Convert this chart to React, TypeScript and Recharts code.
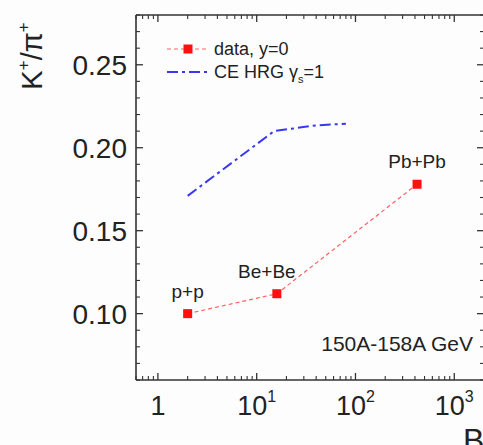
import React from 'react';
import { LineChart, Line, XAxis, YAxis, Legend, LabelList } from 'recharts';

// ---- data ----
const systems = ['p+p', 'Be+Be', 'Pb+Pb'];
const dataNpart = [2, 16, 420];
const dataRatio = [0.1, 0.112, 0.178];
const modelNpart = [2, 15, 40, 80];
const modelRatio = [0.171, 0.21, 0.2135, 0.2145];

const xMajorTicks = [1, 10, 100, 1000];
const xMinorTicks = [0.6, 0.7, 0.8, 0.9, 2, 3, 4, 5, 6, 7, 8, 9, 20, 30, 40, 50, 60, 70, 80, 90, 200, 300, 400, 500, 600, 700, 800, 900, 2000];
const yMajorTicks = [0.1, 0.15, 0.2, 0.25];
const yMinorTicks = [0.06, 0.07, 0.08, 0.09, 0.11, 0.12, 0.13, 0.14, 0.16, 0.17, 0.18, 0.19, 0.21, 0.22, 0.23, 0.24, 0.26, 0.27, 0.28];
const xExponents: Record<number, string> = { 1: '', 10: '1', 100: '2', 1000: '3' };

const dataSeries = systems.map((name, i) => ({ x: dataNpart[i], y: dataRatio[i], name }));
const modelSeries = modelNpart.map((x, i) => ({ x, y: modelRatio[i] }));
const xTicks = [...xMajorTicks, ...xMinorTicks].sort((a, b) => a - b);
const yTicks = [...yMajorTicks, ...yMinorTicks].sort((a, b) => a - b);
const isMajorX = (v: number) => xMajorTicks.includes(v);
const isMajorY = (v: number) => yMajorTicks.some((m) => Math.abs(m - v) < 1e-9);

const FONT = '"Liberation Sans", Arial, sans-serif';
const AX = '#333';
const TXT = '#222';
const RED = '#ff1010';
const BLUE = '#3838f2';

const MAJ = 7;
const MIN = 4;

const BottomTick = (p: any) => {
  const { x, y, payload } = p;
  const v = payload.value;
  const major = isMajorX(v);
  const e = xExponents[v];
  return (
    <g>
      <line x1={x} x2={x} y1={y} y2={y - (major ? MAJ : MIN)} stroke={AX} strokeWidth={major ? 1.3 : 1.1} />
      {major && (
        <text x={x} y={y + 35} textAnchor="middle" fontFamily={FONT} fontSize={27} fill={TXT}>
          {v === 1 ? (
            '1'
          ) : (
            <>
              <tspan>10</tspan>
              <tspan dy={-13} fontSize={16}>{e}</tspan>
            </>
          )}
        </text>
      )}
    </g>
  );
};
const TopTick = (p: any) => {
  const major = isMajorX(p.payload.value);
  return <line x1={p.x} x2={p.x} y1={p.y} y2={p.y + (major ? MAJ : MIN)} stroke={AX} strokeWidth={major ? 1.3 : 1.1} />;
};
const LeftTick = (p: any) => {
  const major = isMajorY(p.payload.value);
  return (
    <g>
      <line x1={p.x} x2={p.x + (major ? MAJ : MIN)} y1={p.y} y2={p.y} stroke={AX} strokeWidth={major ? 1.3 : 1.1} />
      {major && (
        <text x={p.x - 9} y={p.y} dy="0.36em" textAnchor="end" fontFamily={FONT} fontSize={28} fill={TXT}>
          {Number(p.payload.value).toFixed(2)}
        </text>
      )}
    </g>
  );
};
const RightTick = (p: any) => {
  const major = isMajorY(p.payload.value);
  return <line x1={p.x} x2={p.x - (major ? MAJ : MIN)} y1={p.y} y2={p.y} stroke={AX} strokeWidth={major ? 1.3 : 1.1} />;
};

const SquareDot = (p: any) => {
  const { cx, cy } = p;
  if (cx == null || cy == null) return null;
  return <rect x={cx - 4.5} y={cy - 4.5} width={9} height={9} fill={RED} />;
};

const SysLabel = (p: any) => {
  const { x, y, value, index } = p;
  const dx = index === 1 ? -10 : 0;
  return (
    <text x={x + dx} y={y - 16} textAnchor="middle" fontFamily={FONT} fontSize={19} fill={TXT}>
      {value}
    </text>
  );
};

const LegendBox = () => (
  <svg width={200} height={50} style={{ display: 'block' }}>
    <line x1={7} x2={48} y1={11} y2={11} stroke="#ff6060" strokeWidth={1.2} strokeDasharray="4 3" />
    <rect x={23.5} y={6.5} width={9} height={9} fill={RED} />
    <text x={54} y={11} dy="0.36em" fontFamily={FONT} fontSize={18} fill={TXT}>data, y=0</text>
    <line x1={7} x2={48} y1={34} y2={34} stroke={BLUE} strokeWidth={2} strokeDasharray="11 4 3 4" />
    <text x={54} y={34} dy="0.36em" fontFamily={FONT} fontSize={18} fill={TXT}>
      <tspan>CE HRG γ</tspan>
      <tspan dy={5} fontSize={11}>s</tspan>
      <tspan dy={-5}>=1</tspan>
    </text>
  </svg>
);

const common = {
  type: 'number' as const,
  scale: 'log' as const,
  domain: [0.6, 2000],
  allowDataOverflow: true,
  interval: 0 as const,
  tickSize: 0,
  tickMargin: 0,
  tickLine: false,
  height: 1,
  dataKey: 'x',
  ticks: xTicks,
  axisLine: { stroke: AX, strokeWidth: 1.6 },
};
const commonY = {
  type: 'number' as const,
  domain: [0.06, 0.28],
  allowDataOverflow: true,
  interval: 0 as const,
  tickSize: 0,
  tickMargin: 0,
  tickLine: false,
  width: 1,
  ticks: yTicks,
  axisLine: { stroke: AX, strokeWidth: 1.6 },
};

export default function App() {
  return (
    <div style={{ position: 'fixed', left: 0, top: 0, width: 483, height: 445, overflow: 'hidden', background: '#fdfdfd' }}>
      <LineChart width={500} height={445} margin={{ top: 14, right: 15, bottom: 64, left: 135 }}>
        <XAxis {...common} xAxisId="main" orientation="bottom" tick={<BottomTick />} />
        <XAxis {...common} xAxisId="top" orientation="top" tick={<TopTick />} />
        <YAxis {...commonY} yAxisId="main" orientation="left" tick={<LeftTick />} />
        <YAxis {...commonY} yAxisId="right" orientation="right" tick={<RightTick />} />
        <Line
          xAxisId="main"
          yAxisId="main"
          data={modelSeries}
          dataKey="y"
          stroke={BLUE}
          strokeWidth={2}
          strokeDasharray="11 4 3 4"
          dot={false}
          isAnimationActive={false}
        />
        <Line
          xAxisId="main"
          yAxisId="main"
          data={dataSeries}
          dataKey="y"
          stroke="#ff6060"
          strokeWidth={1.2}
          strokeDasharray="4 3"
          dot={<SquareDot />}
          isAnimationActive={false}
        >
          <LabelList dataKey="name" content={<SysLabel />} />
        </Line>
        <Legend
          layout="horizontal"
          verticalAlign="middle"
          align="center"
          content={<LegendBox />}
          wrapperStyle={{ position: 'absolute', left: 160, top: 38, width: 200, height: 50 }}
        />
      </LineChart>
      <svg width={483} height={445} style={{ position: 'absolute', left: 0, top: 0, pointerEvents: 'none' }}>
        <text transform="translate(42,56) rotate(-90)" textAnchor="middle" fontFamily={FONT} fontSize={29} fill={TXT}>
          <tspan>K</tspan>
          <tspan dy={-13} fontSize={17}>+</tspan>
          <tspan dy={13}>/π</tspan>
          <tspan dy={-13} fontSize={17}>+</tspan>
        </text>
        <text x={473} y={343} dy="0.36em" textAnchor="end" fontFamily={FONT} fontSize={21} fill={TXT}>150A-158A GeV</text>
        <text x={463} y={451} fontFamily={FONT} fontSize={32} fill={TXT}>B</text>
      </svg>
    </div>
  );
}
